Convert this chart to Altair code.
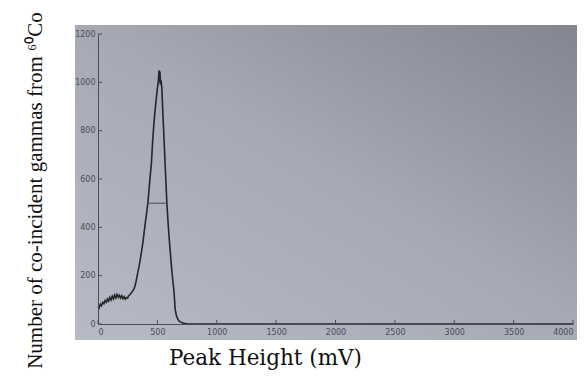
import altair as alt
import pandas as pd

# Spectrum (peak height in mV, counts)
peak_mv = [0, 10, 20, 30, 40, 50, 60, 70, 80, 90, 100, 110, 120, 130, 140, 150,
           160, 170, 180, 190, 200, 210, 220, 230, 240, 250, 260, 270, 280, 290,
           300, 310, 320, 330, 340, 350, 360, 370, 380, 390, 400, 410, 420, 430,
           440, 450, 460, 470, 480, 490, 500, 505, 510, 514, 518, 522, 526, 530,
           537, 550, 560, 570, 580, 590, 600, 610, 620, 630, 640, 650, 660, 670,
           680, 690, 700, 720, 750, 800, 1000, 1500, 2000, 2500, 3000, 3500, 4000]
counts = [72, 66, 82, 76, 90, 84, 97, 90, 104, 95, 110, 100, 115, 104, 120, 108,
          122, 111, 119, 107, 117, 105, 113, 103, 110, 108, 118, 122, 128, 136,
          142, 155, 175, 200, 225, 250, 280, 310, 345, 385, 425, 462, 500, 557,
          614, 667, 755, 825, 880, 930, 975, 990, 1020, 1050, 1000, 1045, 990, 1010,
          980, 833, 720, 608, 500, 420, 350, 290, 230, 180, 135, 60, 35, 22,
          14, 10, 7, 3, 1, 0, 0, 0, 0, 0, 0, 0, 0]

fwhm_mv = [420, 582]
fwhm_count = 500

x_ticks = [0, 500, 1000, 1500, 2000, 2500, 3000, 3500, 4000]
y_ticks = [0, 200, 400, 600, 800, 1000, 1200]

W, H = 475, 290

df = pd.DataFrame({"mv": peak_mv, "n": counts})
fwhm_df = pd.DataFrame({"x1": [fwhm_mv[0]], "x2": [fwhm_mv[1]], "y": [fwhm_count]})
xt_df = pd.DataFrame({"t": x_ticks})
yt_df = pd.DataFrame({"t": y_ticks})

xscale = alt.Scale(domain=[0, 4000], nice=False)
yscale = alt.Scale(domain=[0, 1200], nice=False)

axis_common = dict(grid=False, ticks=False, domainColor="#4b4e59", domainWidth=1,
                   labelFont="DejaVu Sans", labelFontSize=8, labelColor="#4a4d57",
                   format="d", titleColor="#111111", titleFontWeight="normal", zindex=1)

gradient = alt.LinearGradient(
    gradient="linear",
    stops=[alt.GradientStop(color="#b6bac4", offset=0),
           alt.GradientStop(color="#a6aab5", offset=0.5),
           alt.GradientStop(color="#80848f", offset=1)],
    x1=0, y1=1, x2=1, y2=0)

bg = alt.Chart(pd.DataFrame({"a": [0]})).mark_rect(fill=gradient).encode(
    x=alt.value(-23), x2=alt.value(W + 30), y=alt.value(-9), y2=alt.value(H + 16))

line = alt.Chart(df).mark_line(color="#26262b", strokeWidth=1.6).encode(
    x=alt.X("mv:Q", scale=xscale,
            axis=alt.Axis(values=x_ticks, title="Peak Height (mV)", labelPadding=4,
                          titleFont="DejaVu Serif", titleFontSize=21.5,
                          titleBaseline="alphabetic", titleAlign="center",
                          titleX=167, titleY=40, **axis_common)),
    y=alt.Y("n:Q", scale=yscale,
            axis=alt.Axis(values=y_ticks, title="Number of co-incident gammas from ⁶⁰Co",
                          labelPadding=3, titleFont="Liberation Serif", titleFontSize=21,
                          titleAngle=270, titleBaseline="alphabetic", titleAlign="center",
                          titleX=-57, titleY=156, **axis_common)),
)

fwhm = alt.Chart(fwhm_df).mark_rule(color="#4a4a52", strokeWidth=1).encode(
    x="x1:Q", x2="x2:Q", y="y:Q")

xtick = alt.Chart(xt_df).mark_rule(color="#4b4e59", strokeWidth=1).encode(
    x=alt.X("t:Q", scale=xscale), y=alt.value(H), y2=alt.value(H - 4))
ytick = alt.Chart(yt_df).mark_rule(color="#4b4e59", strokeWidth=1).encode(
    y=alt.Y("t:Q", scale=yscale), x=alt.value(0), x2=alt.value(4))

chart = alt.layer(bg, line, fwhm, xtick, ytick).properties(
    width=W, height=H,
    autosize=alt.AutoSizeParams(type="none"),
    padding={"left": 90, "top": 26, "right": 4, "bottom": 46},
).configure_view(stroke=None).configure(background="white")

chart.save("out.html", embed_options={"renderer": "svg", "actions": False})
